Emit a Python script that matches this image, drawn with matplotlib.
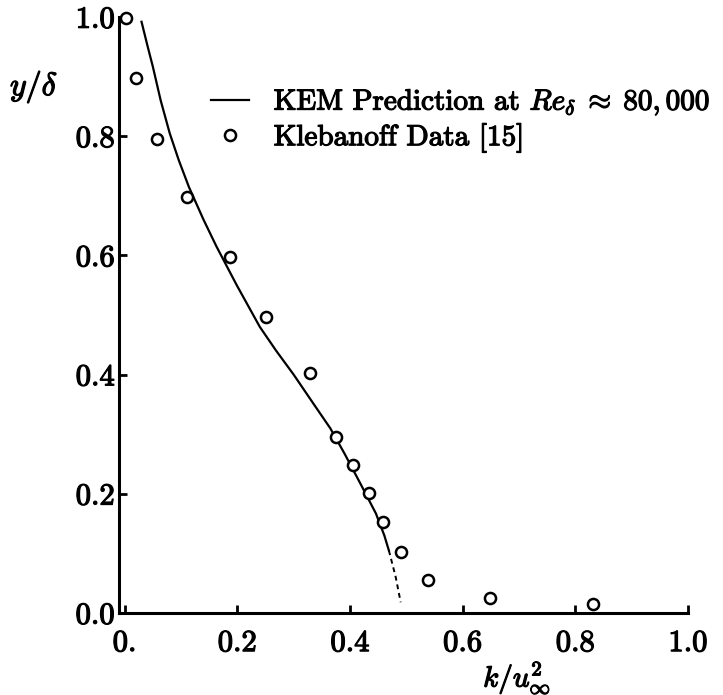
import matplotlib
matplotlib.use("Agg")
import matplotlib.pyplot as plt
import matplotlib.patheffects as pe

plt.rcParams["font.family"] = ["cmr10", "DejaVu Serif"]
plt.rcParams["mathtext.fontset"] = "cm"
plt.rcParams["axes.unicode_minus"] = False

# KEM prediction (solid part, then dashed tail near the wall)
kem_x = [0.030, 0.041, 0.050, 0.064, 0.080, 0.096, 0.114, 0.140, 0.163, 0.199, 0.240,
         0.269, 0.300, 0.336, 0.365, 0.390, 0.418, 0.446, 0.461, 0.469]
kem_y = [0.992, 0.950, 0.917, 0.860, 0.805, 0.760, 0.715, 0.660, 0.615, 0.550, 0.480,
         0.440, 0.400, 0.350, 0.310, 0.268, 0.218, 0.167, 0.130, 0.105]
tail_x = [0.469, 0.481, 0.490]
tail_y = [0.105, 0.061, 0.018]

# Klebanoff data [15]
kleb_x = [0.003, 0.020, 0.058, 0.110, 0.187, 0.251, 0.329, 0.375, 0.406, 0.433, 0.459, 0.490, 0.539, 0.648, 0.832]
kleb_y = [0.998, 0.898, 0.796, 0.698, 0.598, 0.497, 0.403, 0.296, 0.249, 0.201, 0.152, 0.103, 0.056, 0.025, 0.015]

xticks = [0.0, 0.2, 0.4, 0.6, 0.8, 1.0]
xticklabels = ["0.", "0.2", "0.4", "0.6", "0.8", "1.0"]
yticks = [0.0, 0.2, 0.4, 0.6, 0.8, 1.0]
yticklabels = ["0.0", "0.2", "0.4", "0.6", "0.8", "1.0"]

W, H = 723, 695
fig = plt.figure(figsize=(W / 100, H / 100), dpi=100)
ax = fig.add_axes([119 / W, (H - 613) / H, (688 - 119) / W, (613 - 17) / H])

bold = [pe.withStroke(linewidth=0.9, foreground="black")]

ax.plot(kem_x, kem_y, color="black", lw=1.6, label=r"KEM Prediction at $Re_\delta\;\approx\;80,000$")
ax.plot(tail_x, tail_y, color="black", lw=1.4, linestyle=(0, (2.5, 2)))
ax.plot(kleb_x, kleb_y, linestyle="none", marker="o", markersize=8, markerfacecolor="white",
        markeredgecolor="black", markeredgewidth=1.8, label="Klebanoff Data [15]", clip_on=False)

ax.set_xlim(-0.01, 1.0)
ax.set_ylim(0.0, 1.0)
for s in ["top", "right"]:
    ax.spines[s].set_visible(False)
for s in ["left", "bottom"]:
    ax.spines[s].set_linewidth(2.2)

ax.set_xticks(xticks)
ax.set_xticklabels(xticklabels)
ax.set_yticks(yticks)
ax.set_yticklabels(yticklabels)
ax.tick_params(axis="x", direction="in", length=6, width=2, labelsize=22, pad=12)
ax.tick_params(axis="y", direction="in", length=6, width=2, labelsize=22, pad=3)
for t in ax.get_xticklabels() + ax.get_yticklabels():
    t.set_path_effects(bold)

fig.text(34 / W, 1 - 87 / H, r"$y/\delta$", fontsize=23, ha="center", va="center", path_effects=bold)
fig.text(517 / W, 1 - 678 / H, r"$k/u_\infty^2$", fontsize=21, ha="center", va="center", path_effects=bold)

leg = ax.legend(loc="upper left", bbox_to_anchor=(211 / W, 1 - 87 / H), bbox_transform=fig.transFigure,
                frameon=False, fontsize=21, handlelength=1.3, handletextpad=0.85, borderpad=0,
                borderaxespad=0, labelspacing=0.2)
for t in leg.get_texts():
    t.set_path_effects(bold)

fig.savefig("out.png", dpi=100)
